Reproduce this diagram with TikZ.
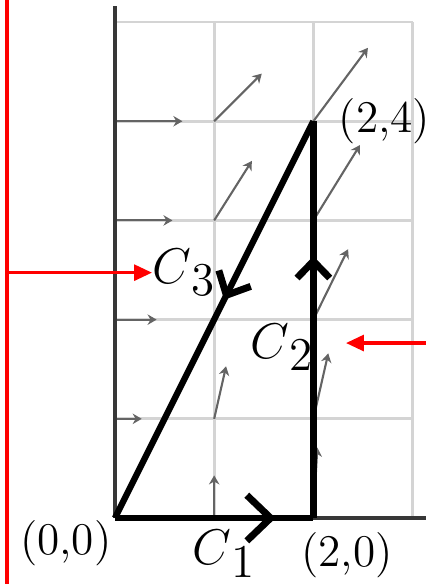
\documentclass[tikz,border=0pt]{standalone}
\usepackage{xcolor}
\usetikzlibrary{arrows.meta, positioning, calc, decorations.markings}
\definecolor{gridgray}{RGB}{212,212,212}
\definecolor{axisgray}{RGB}{55,55,55}
\definecolor{fieldgray}{RGB}{100,100,100}
\definecolor{markred}{RGB}{255,0,0}

\newcommand{\pathname}[1]{$C$\raisebox{-3.5pt}{#1}}

\begin{document}
\begin{tikzpicture}[
    gridline/.style={gridgray, line width=0.8pt},
    axis/.style={axisgray, line width=1pt},
    field/.style={-{Stealth[length=2.6pt, width=3pt]}, fieldgray, line width=0.6pt},
    curve/.style={black, line width=1.8pt},
    midarr/.style n args={3}{postaction={decorate}, decoration={markings,
        mark=at position #1 with {\arrow[line width=2pt]{Straight Barb[length=#2, width=#3]}}}},
    ptlabel/.style={font=\fontsize{13}{15}\selectfont, inner sep=0pt},
    cname/.style={font=\fontsize{13.5}{16}\selectfont, inner sep=0pt},
    redline/.style={markred, line width=0.9pt},
    redarr/.style={redline, -{Triangle[length=1.8mm, width=1.6mm]}}
]
\useasboundingbox (-1.159,-0.665) rectangle (3.135,5.222);

% grid
\foreach \x in {1,2,3} \draw[gridline] (\x,0) -- (\x,5);
\foreach \y in {1,...,5} \draw[gridline] (0,\y) -- (3,\y);

% vector field
\foreach \x/\y/\u/\v in {0/1/0.27/0, 0/2/0.42/0, 0/3/0.58/0, 0/4/0.68/0,
    1/0/0/0.43, 1/1/0.12/0.53, 1/3/0.38/0.60, 1/4/0.48/0.48,
    2/0/0.04/0.71, 2/1/0.15/0.66, 2/2/0.35/0.71, 2/3/0.47/0.76, 2/4/0.55/0.74}
    \draw[field] (\x,\y) -- ++(\u,\v);

% axes
\coordinate (O) at (0,0);
\coordinate (A) at (2,0);
\coordinate (B) at (2,4);
\draw[axis] (O) -- (0,5.16);
\draw[axis] (O) -- (3.135,0);

% closed curve
\draw[curve, midarr={0.81}{2.4mm}{4.6mm}] (O) -- (A);
\draw[curve, midarr={0.66}{1.7mm}{3.3mm}] (A) -- (B);
\draw[curve, midarr={0.45}{1.9mm}{3.6mm}] (B) -- (O);

% point labels
\node[ptlabel, below left=0.02cm and 0.03cm of O] (lo) {(0,0)};
\node[ptlabel, anchor=north] (la) at ($(A)+(0.34,-0.14)$) {(2,0)};
\node[ptlabel, right=0.25cm of B] (lb) {(2,4)};

% curve names
\node[cname, anchor=north west] (c1) at (0.776,-0.12) {\pathname{1}};
\node[cname, anchor=north west] (c2) at (1.361,1.96) {\pathname{2}};
\node[cname, anchor=north west] (c3) at (0.373,2.72) {\pathname{3}};

% red markers
\coordinate (rtop) at (-1.089,5.222);
\coordinate (rbot) at (-1.089,-0.665);
\coordinate (rright) at (3.135,1.764);
\coordinate (c2mark) at (2.329,1.764);
\draw[redline] (rtop) -- (rbot);
\draw[redarr] (rtop |- c3.west) -- (c3.west);
\draw[redarr] (rright) -- (c2mark);
\end{tikzpicture}
\end{document}
